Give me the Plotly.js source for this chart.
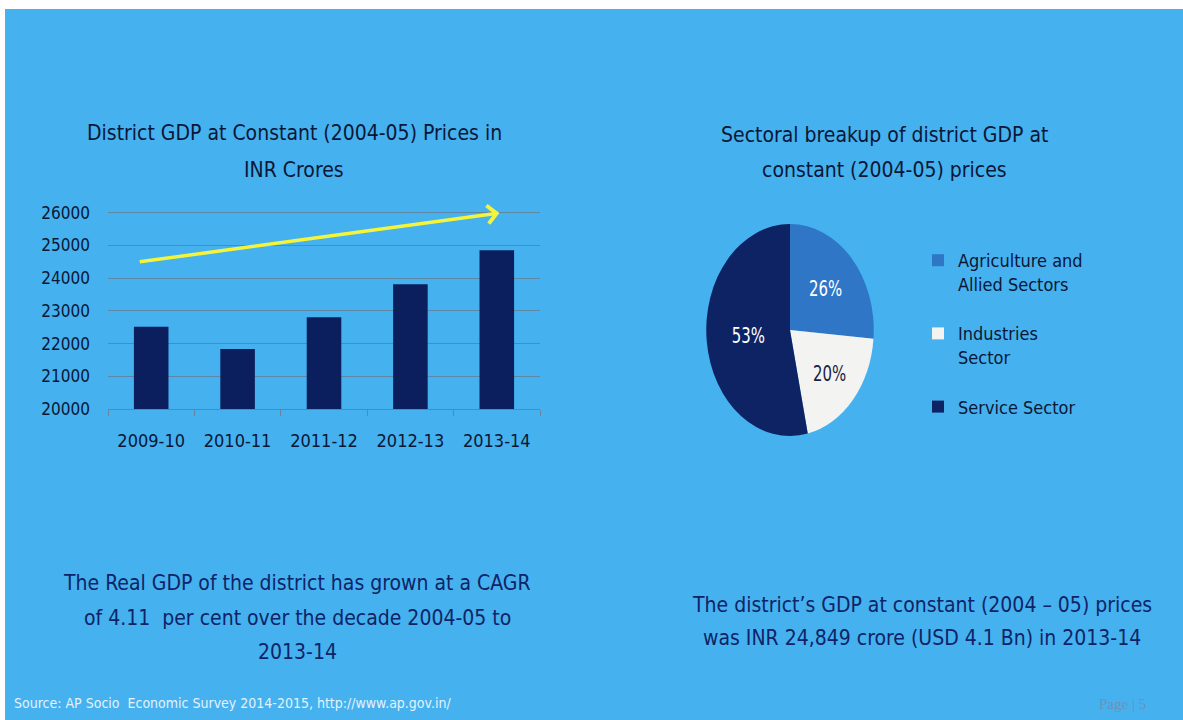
<!DOCTYPE html>
<html>
<head>
<meta charset="utf-8">
<script src="https://cdn.plot.ly/plotly-3.0.1.min.js"></script>
<style>
html,body{margin:0;padding:0;background:#ffffff;}
#chart{width:1183px;height:720px;}
</style>
</head>
<body>
<div id="chart"></div>
<script>
// ---- data ----
const years = ["2009-10", "2010-11", "2011-12", "2012-13", "2013-14"];
const gdpValues = [22510, 21830, 22800, 23810, 24849];
const yTicks = [20000, 21000, 22000, 23000, 24000, 25000, 26000];

const sectors = ["Agriculture and<br>Allied Sectors", "Industries<br>Sector", "Service Sector"];
const sectorShares = [26.3, 20.3, 53.4];

const barTitleLines = ["District GDP at Constant (2004-05) Prices in", "INR Crores"];
const pieTitleLines = ["Sectoral breakup of district GDP at", "constant (2004-05) prices"];
const leftNoteLines = ["The Real GDP of the district has grown at a CAGR", "of 4.11  per cent over the decade 2004-05 to", "2013-14"];
const rightNoteLines = ["The district’s GDP at constant (2004 – 05) prices", "was INR 24,849 crore (USD 4.1 Bn) in 2013-14"];
const sourceText = "Source: AP Socio  Economic Survey 2014-2015, http://www.ap.gov.in/";
const pageText = "Page | 5";

// ---- styling ----
const W = 1183, H = 720;
const FONT = "DejaVu Sans Condensed, Liberation Sans Narrow, sans-serif";
const BG = "#45b1ef";
const NAVY = "#0f2466";
const DARK = "#0b1736";

const px = x => x / W;
const py = y => (H - y) / H;

const barTrace = {
  type: "bar",
  x: years,
  y: gdpValues,
  width: 0.4,
  marker: {color: "#0b1f5e"},
  xaxis: "x", yaxis: "y",
  showlegend: false,
  hoverinfo: "x+y"
};

// legend spacing: pad two-line entries with an empty line
const legendLabels = sectors.map((s, i) => i < sectors.length - 1 ? s + "<br>&nbsp;" : s);

const pieTrace = {
  type: "pie",
  labels: legendLabels,
  values: sectorShares,
  sort: false,
  direction: "clockwise",
  rotation: 0,
  marker: {colors: ["#2f76c7", "#f3f3f1", "#0d2363"], line: {width: 0}},
  textinfo: "percent",
  texttemplate: "%{percent:.0%}",
  textposition: "inside",
  insidetextorientation: "horizontal",
  insidetextfont: {family: FONT, size: 21, color: ["#ffffff", "#1a2344", "#ffffff"]},
  domain: {x: [px(790 - 106), px(790 + 106)], y: [py(436), py(224)]},
  showlegend: true,
  hoverinfo: "label+percent"
};

function lineAnns(lines, cx, yFirst, step, size, color) {
  return lines.map((t, i) => ({
    xref: "paper", yref: "paper", x: px(cx), y: py(yFirst + i * step),
    xanchor: "center", yanchor: "middle", text: t, showarrow: false,
    font: {family: FONT, size: size, color: color}
  }));
}

const layout = {
  width: W, height: H,
  margin: {l: 0, r: 0, t: 0, b: 0},
  paper_bgcolor: "#ffffff",
  plot_bgcolor: "rgba(0,0,0,0)",
  font: {family: FONT, color: DARK},
  shapes: [
    {type: "rect", xref: "paper", yref: "paper", x0: px(5), x1: 1, y0: 0, y1: py(9),
     fillcolor: BG, line: {width: 0}, layer: "below"}
  ],
  xaxis: {
    type: "category",
    domain: [px(108), px(540)],
    anchor: "y",
    showline: true, linecolor: "#66859c", linewidth: 1,
    ticks: "outside", tickson: "boundaries", ticklen: 6, tickcolor: "#66859c",
    tickfont: {family: FONT, size: 18, color: DARK},
    ticklabelstandoff: 15,
    showgrid: false
  },
  yaxis: {
    domain: [py(409), py(211)],
    anchor: "x",
    range: [20000, 26050],
    tickvals: yTicks,
    ticktext: yTicks.map(String),
    showgrid: true, gridcolor: "#5f86a3", gridwidth: 1,
    zeroline: false, showline: false,
    ticks: "", ticklabelstandoff: 17,
    tickfont: {family: FONT, size: 17, color: DARK}
  },
  legend: {
    x: px(918), y: py(242), xanchor: "left", yanchor: "top",
    valign: "top",
    bgcolor: "rgba(0,0,0,0)",
    font: {family: FONT, size: 18, color: DARK},
    itemwidth: 30
  },
  annotations: [
    {xref: "x", yref: "y", axref: "x", ayref: "y",
     x: 4.03, y: 25990, ax: -0.15, ay: 24490,
     showarrow: true, arrowhead: 4, arrowsize: 1.0, arrowwidth: 3.5, arrowcolor: "#f4f53a", text: ""},
    ...lineAnns(barTitleLines, 294, 133, 37, 21, DARK),
    ...lineAnns(pieTitleLines, 884, 135, 35, 21, DARK),
    ...lineAnns(leftNoteLines, 297, 583, 34.5, 21, NAVY),
    ...lineAnns(rightNoteLines, 922, 605, 33, 21, NAVY),
    {xref: "paper", yref: "paper", x: px(12), y: py(703), xanchor: "left", yanchor: "middle",
     text: sourceText, showarrow: false, font: {family: FONT, size: 14, color: "#e3f2fc"}},
    {xref: "paper", yref: "paper", x: px(1122), y: py(704), xanchor: "center", yanchor: "middle",
     text: pageText, showarrow: false, font: {family: "Liberation Serif, serif", size: 15, color: "#6a93b8"}}
  ]
};

Plotly.newPlot("chart", [barTrace, pieTrace], layout, {displayModeBar: false, staticPlot: true}).then(gd => {
  // squash the pie horizontally like the original slide
  const tr = gd.querySelector(".pielayer .trace");
  if (tr) {
    const cx = 790, cy = 330;
    tr.setAttribute("transform", `translate(${cx},${cy}) scale(0.79,1) translate(${-cx},${-cy})`);
  }
});
</script>
</body>
</html>
